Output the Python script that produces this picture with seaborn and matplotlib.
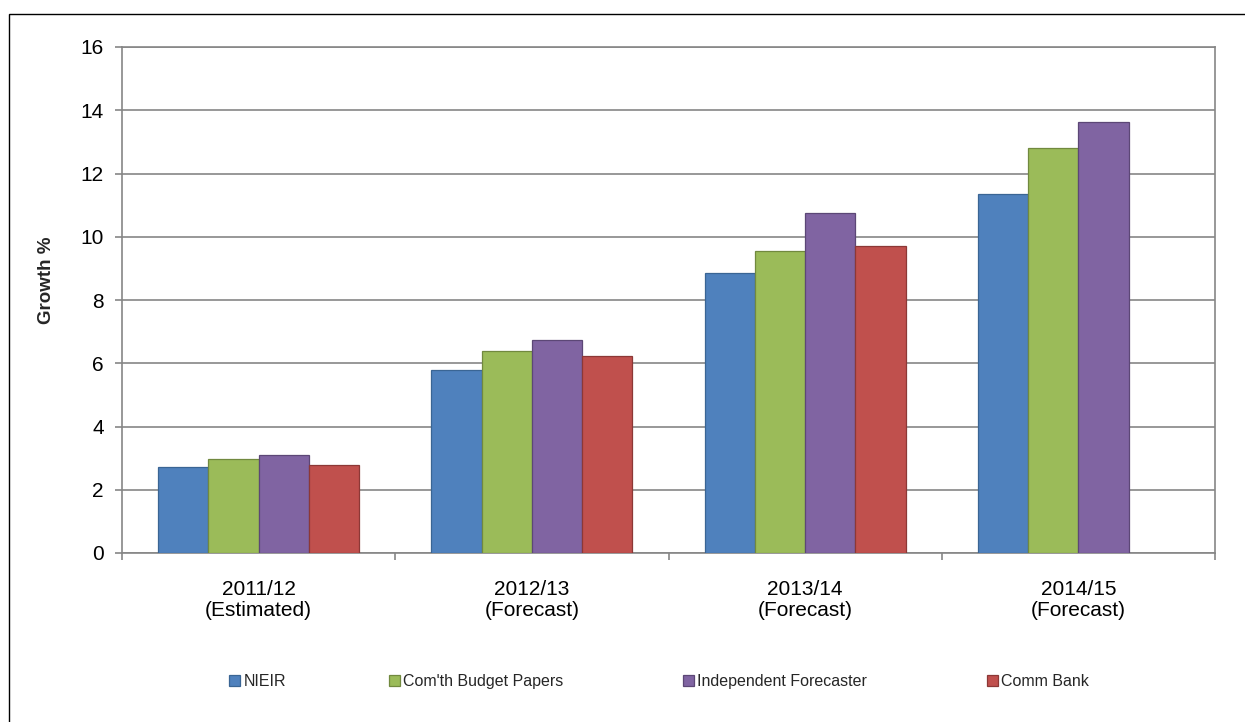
import numpy as np
import pandas as pd
import matplotlib
matplotlib.use("Agg")
import matplotlib.pyplot as plt
from matplotlib.patches import Rectangle
import seaborn as sns

# Forecast growth by financial year, per source
periods = ["2011/12\n(Estimated)", "2012/13\n(Forecast)", "2013/14\n(Forecast)", "2014/15\n(Forecast)"]
sources = ["NIEIR", "Com'th Budget Papers", "Independent Forecaster", "Comm Bank"]
nieir = [2.72, 5.80, 8.86, 11.35]
budget_papers = [2.98, 6.40, 9.55, 12.81]
independent = [3.09, 6.74, 10.76, 13.63]
comm_bank = [2.78, 6.22, 9.72, None]

fills = ["#4F81BD", "#9BBB59", "#8064A2", "#C0504D"]
edges = ["#3A6594", "#71893F", "#5C4776", "#8C3836"]
grid_grey = "#868686"

series = [nieir, budget_papers, independent, comm_bank]
rows = []
for src, vals in zip(sources, series):
    for per, v in zip(periods, vals):
        rows.append({"period": per, "source": src, "growth": v})
df = pd.DataFrame(rows).dropna()

sns.set_style("white")
plt.rcParams["font.family"] = ["Liberation Sans", "DejaVu Sans"]

W, H = 1245, 722
fig = plt.figure(figsize=(W / 100, H / 100), dpi=100)
left, right, top, bottom = 122, 1215, 47, 553
ax = fig.add_axes([left / W, 1 - bottom / H, (right - left) / W, (bottom - top) / H])

sns.barplot(data=df, x="period", y="growth", hue="source",
            order=periods, hue_order=sources, palette=fills, saturation=1,
            width=0.735, gap=0, errorbar=None, legend=False,
            linewidth=0.9, ax=ax, zorder=3)

for cont, ec in zip(ax.containers, edges):
    for p in cont.patches:
        p.set_edgecolor(ec)
        p.set_linewidth(0.9)

ax.set_xlim(-0.5, 3.5)
ax.set_ylim(0, 16)
ax.set_yticks(np.arange(0, 17, 2))
ax.yaxis.grid(True, color=grid_grey, linewidth=1.2, zorder=0)
ax.set_axisbelow(True)

for side in ["left", "bottom", "right", "top"]:
    ax.spines[side].set_visible(True)
    ax.spines[side].set_color(grid_grey)
    ax.spines[side].set_linewidth(1.2)

ax.tick_params(axis="y", which="major", direction="out", length=5, width=1.2,
               color=grid_grey, pad=8, labelsize=15, labelcolor="black", left=True)
ax.set_xticks(np.arange(-0.5, 4.0, 1.0), minor=True)
ax.tick_params(axis="x", which="minor", direction="out", length=5, width=1.2,
               color=grid_grey, bottom=True)
ax.tick_params(axis="x", which="major", length=0, pad=19.5, labelsize=15,
               labelcolor="black")
for lbl in ax.get_xticklabels():
    lbl.set_linespacing(1.15)

ax.set_xlabel("")
ax.set_ylabel("Growth %", fontsize=13.5, fontweight="bold")
ax.yaxis.set_label_coords((55 - left) / (right - left), (bottom - 280) / (bottom - top))

# One legend entry per source, spaced along the bottom, tops aligned
handles = [c.patches[0] for c in ax.containers]
legend_x = [229, 389, 683, 987]
legend_top = 1 - 674 / H
for h, lab, x in zip(handles, sources, legend_x):
    fig.legend([h], [lab], loc="upper left", bbox_to_anchor=(x / W, legend_top),
               frameon=False, fontsize=11.5, handlelength=0.7, handleheight=0.7,
               handletextpad=0.2, borderpad=0, borderaxespad=0)

# Chart-area border
fig.add_artist(Rectangle((9 / W, -0.5), 2.0, 0.5 + (1 - 14 / H),
                         transform=fig.transFigure, fill=False,
                         edgecolor="black", linewidth=1.0))

fig.savefig("out.png", dpi=100)
